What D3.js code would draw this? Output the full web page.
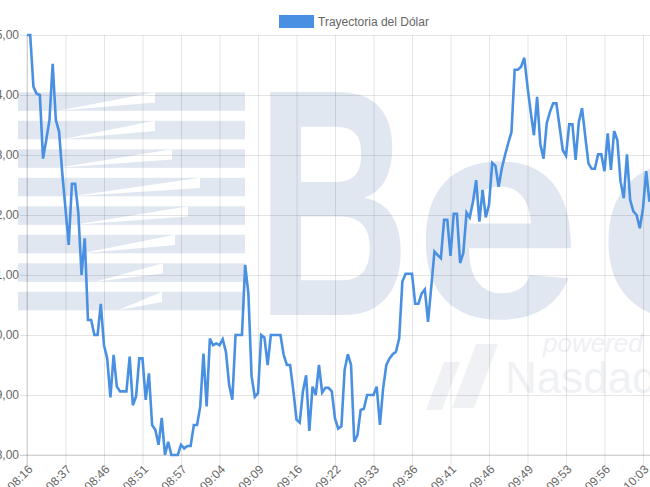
<!DOCTYPE html>
<html>
<head>
<meta charset="utf-8">
<script src="https://cdn.jsdelivr.net/npm/d3@7"></script>
<style>
  body { margin: 0; background: #fff; overflow: hidden; }
  text { font-family: "Liberation Sans", Arial, sans-serif; }
</style>
</head>
<body>
<script>
// datos
var seriesName = 'Trayectoria del Dólar';
var tickLabels = ['08:16', '08:37', '08:46', '08:51', '08:57', '09:04', '09:09', '09:16', '09:22',
                  '09:33', '09:36', '09:41', '09:46', '09:49', '09:53', '09:56', '10:03'];
var tickEvery = 12; // una etiqueta cada 12 puntos
var yTicks = [3898, 3899, 3900, 3901, 3902, 3903, 3904, 3905];
var dolar = [
  3905.00, 3905.00, 3904.14, 3904.02, 3904.00, 3902.94, 3903.25, 3903.58, 3904.52, 3903.58,
  3903.39, 3902.69, 3902.10, 3901.50, 3902.52, 3902.52, 3902.03, 3901.00, 3901.61, 3900.25,
  3900.25, 3900.00, 3900.00, 3900.52, 3899.83, 3899.61, 3898.96, 3899.67, 3899.14, 3899.06,
  3899.06, 3899.06, 3899.64, 3898.83, 3898.98, 3899.61, 3899.61, 3898.92, 3899.36, 3898.50,
  3898.42, 3898.17, 3898.62, 3898.00, 3898.22, 3898.00, 3898.00, 3898.00, 3898.17, 3898.11,
  3898.15, 3898.15, 3898.50, 3898.50, 3898.81, 3899.69, 3898.81, 3899.94, 3899.83, 3899.86,
  3899.83, 3899.93, 3899.72, 3899.17, 3898.92, 3900.00, 3900.00, 3900.00, 3901.17, 3900.69,
  3899.31, 3898.97, 3899.03, 3900.00, 3899.96, 3899.50, 3900.00, 3900.00, 3900.00, 3900.00,
  3899.67, 3899.50, 3899.50, 3899.08, 3898.59, 3898.54, 3899.06, 3899.33, 3898.40, 3899.14,
  3899.00, 3899.50, 3899.04, 3899.12, 3899.12, 3899.06, 3898.61, 3898.44, 3898.48, 3899.42,
  3899.68, 3899.50, 3898.22, 3898.33, 3898.75, 3898.77, 3899.00, 3899.00, 3899.00, 3899.14,
  3898.50, 3899.11, 3899.50, 3899.61, 3899.68, 3899.72, 3899.94, 3900.89, 3901.02, 3901.02,
  3901.02, 3900.52, 3900.52, 3900.69, 3900.76, 3900.22, 3900.80, 3901.39, 3901.33, 3901.28,
  3901.92, 3901.92, 3901.32, 3902.02, 3902.02, 3901.20, 3901.37, 3902.04, 3901.96, 3902.22,
  3902.58, 3901.89, 3902.42, 3901.96, 3902.17, 3902.87, 3902.82, 3902.47, 3902.78, 3903.00,
  3903.20, 3903.38, 3904.42, 3904.42, 3904.47, 3904.62, 3904.14, 3903.72, 3903.33, 3903.97,
  3903.18, 3902.94, 3903.53, 3903.72, 3903.86, 3903.86, 3903.47, 3903.08, 3902.99, 3903.51,
  3903.51, 3902.92, 3903.55, 3903.78, 3903.31, 3902.86, 3902.77, 3902.77, 3903.01, 3903.01,
  3902.73, 3903.36, 3902.75, 3903.40, 3903.25, 3902.56, 3902.28, 3903.01, 3902.25, 3902.06,
  3902.00, 3901.78, 3902.11, 3902.73, 3902.22
];

var W = 650, H = 487;
var svg = d3.select('body').append('svg')
      .attr('width', W)
      .attr('height', H);

var x = d3.scaleLinear()
      .domain([0, (tickLabels.length - 1) * tickEvery])
      .range([27, 643]);
var y = d3.scaleLinear()
      .domain([3898, 3905])
      .range([455, 35]);

var es = d3.formatLocale({decimal: ',', thousands: '.', grouping: [3], currency: ['$', '']});
var fmt = es.format(',.2f');

// marca de agua de fondo (logo)
var wm = svg.append('g').attr('class', 'watermark');
var wmColor = '#e0e7f1';
var bandTop = 92.3, bandStep = 28.5, bandH = 18.5;
var cuts = [[58, 155], [62, 155], [58, 172], [72, 200], [75, 188], [82, 175], [95, 163], [118, 162]];
cuts.forEach(function(c, k) {
  var t = bandTop + k * bandStep;
  wm.append('rect')
    .attr('x', 18).attr('y', t)
    .attr('width', 227).attr('height', bandH)
    .attr('fill', wmColor);
  wm.append('polygon')
    .attr('points', [[c[0], t + bandH], [c[1], t], [c[1], t + bandH * 0.55]].join(' '))
    .attr('fill', '#fff');
});
wm.append('text').text('B')
  .attr('transform', 'translate(256,315) scale(0.66,1)')
  .attr('font-size', 324).attr('font-weight', 'bold')
  .attr('fill', wmColor);
wm.append('text').text('e')
  .attr('transform', 'translate(414,317) scale(1.04,1)')
  .attr('font-size', 289).attr('font-weight', 'bold')
  .attr('fill', wmColor);
wm.append('text').text('c')
  .attr('transform', 'translate(596,317) scale(1.1,1)')
  .attr('font-size', 289).attr('font-weight', 'bold')
  .attr('fill', wmColor);
wm.append('polygon')
  .attr('points', '426,410 442,410 460,362 444,362')
  .attr('fill', '#f0f1f4');
wm.append('polygon')
  .attr('points', '452,408 474,408 498,344 476,344')
  .attr('fill', '#f0f1f4');
wm.append('text').text('powered by')
  .attr('x', 543).attr('y', 352)
  .attr('font-size', 26).attr('font-style', 'italic')
  .attr('fill', '#eef0f4');
wm.append('text').text('Nasdaq')
  .attr('x', 505).attr('y', 393)
  .attr('font-size', 44)
  .attr('fill', '#f0f1f4');

// eje y con lineas de cuadricula
var yAxis = svg.append('g')
  .attr('transform', 'translate(20,0)')
  .call(d3.axisLeft(y).tickValues(yTicks).tickSize(-(W - 20)).tickPadding(1).tickFormat(fmt));
yAxis.select('.domain').remove();
yAxis.selectAll('line').attr('stroke', 'rgba(0,0,0,0.1)');
yAxis.selectAll('text')
  .attr('fill', '#666')
  .attr('font-size', 12)
  .attr('font-family', '"Liberation Sans", Arial, sans-serif');

// eje x
var xTickIdx = tickLabels.map(function(d, i) { return i * tickEvery; });
var xAxis = svg.append('g')
  .attr('transform', 'translate(0,465)')
  .call(d3.axisBottom(x).tickValues(xTickIdx).tickSize(-430)
        .tickFormat(function(d) { return tickLabels[d / tickEvery]; }));
xAxis.select('.domain').remove();
xAxis.selectAll('line').attr('stroke', 'rgba(0,0,0,0.1)');
xAxis.selectAll('text')
  .attr('fill', '#666')
  .attr('font-size', 12)
  .attr('font-family', '"Liberation Sans", Arial, sans-serif')
  .attr('text-anchor', 'end')
  .attr('x', 0).attr('y', 0).attr('dy', '0.35em')
  .attr('transform', 'translate(3,2) rotate(-45)');

// bordes de los ejes
svg.append('line')
  .attr('x1', x(0)).attr('x2', x(0)).attr('y1', y(3905)).attr('y2', 465)
  .attr('stroke', 'rgba(0,0,0,0.15)');
svg.append('line')
  .attr('x1', 20).attr('x2', W).attr('y1', y(3898)).attr('y2', y(3898))
  .attr('stroke', 'rgba(0,0,0,0.15)');

// linea
var line = d3.line()
  .x(function(d, i) { return x(i); })
  .y(function(d) { return y(d); });
svg.append('path')
  .datum(dolar)
  .attr('d', line)
  .attr('fill', 'none')
  .attr('stroke', '#4a90e2')
  .attr('stroke-width', 2.6)
  .attr('stroke-linejoin', 'miter');

// leyenda
var legend = svg.append('g').attr('transform', 'translate(279,15)');
legend.append('rect')
  .attr('width', 35).attr('height', 13)
  .attr('fill', '#4a90e2');
legend.append('text')
  .attr('x', 39).attr('y', 6.5).attr('dy', '0.35em')
  .attr('font-size', 12)
  .attr('fill', '#666')
  .text(seriesName);
</script>
</body>
</html>
